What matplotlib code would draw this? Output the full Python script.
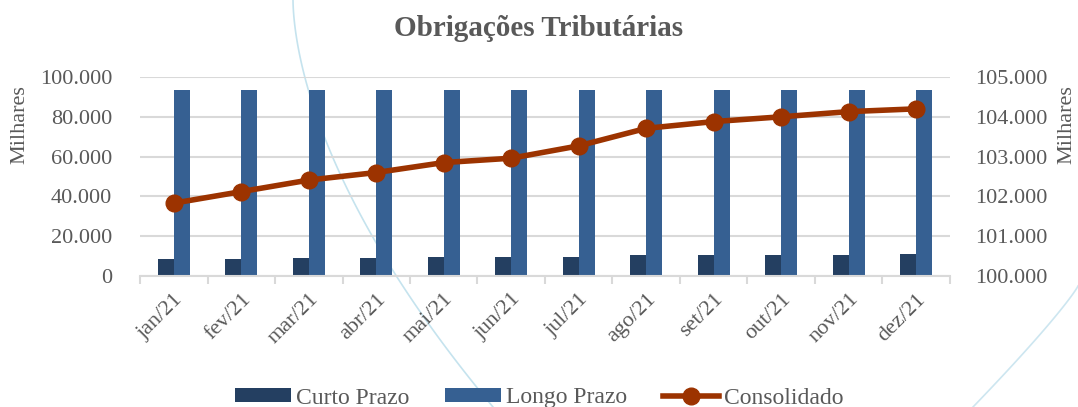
import matplotlib.pyplot as plt
import numpy as np
from matplotlib.ticker import FuncFormatter

meses = ["jan/21", "fev/21", "mar/21", "abr/21", "mai/21", "jun/21",
         "jul/21", "ago/21", "set/21", "out/21", "nov/21", "dez/21"]
curto_prazo = [8400, 8700, 9000, 9200, 9400, 9500, 9700, 10400, 10400, 10400, 10500, 10900]
longo_prazo = [93500] * 12
consolidado = [101830, 102120, 102410, 102600, 102850, 102960,
               103270, 103710, 103880, 104000, 104130, 104200]

plt.rcParams['font.family'] = ['Liberation Serif', 'DejaVu Serif']
cinza = "#595959"

def milhar(v, pos):
    return f"{int(round(v)):,}".replace(",", ".")

fig = plt.figure(figsize=(10.78, 4.07), dpi=100)
# decorative background curves
bg = fig.add_axes([0, 0, 1, 1], zorder=-1)
bg.set_xlim(0, 1078)
bg.set_ylim(407, 0)
bg.axis("off")
t = np.linspace(0, 1, 100)
bg.plot(293 + 200 * t ** 1.7, 407 * t, color="#c5e3ee", lw=1.2)
bg.plot(1078 - 105 * t, 286 + 121 * t ** 0.9, color="#cde6f0", lw=1.2)

ax = fig.add_axes([140 / 1078, 1 - 276 / 407, 810 / 1078, 199 / 407])
ax.patch.set_alpha(0)
x = np.arange(len(meses))
w = 0.24
ax.bar(x - w / 2, curto_prazo, w, color="#243f61", label="Curto Prazo", zorder=2)
ax.bar(x + w / 2, longo_prazo, w, color="#366092", label="Longo Prazo", zorder=2)
ax.set_xlim(-0.5, 11.5)
ax.set_ylim(0, 100000)
ax.set_yticks(np.arange(0, 100001, 20000))
ax.yaxis.set_major_formatter(FuncFormatter(milhar))
ax.grid(axis="y", color="#d9d9d9", lw=1.5, zorder=0)
for s in ["top", "right", "left"]:
    ax.spines[s].set_visible(False)
ax.spines["bottom"].set_color("#d9d9d9")
ax.spines["bottom"].set_linewidth(1.5)
ax.set_xticks(x)
ax.set_xticklabels(meses, rotation=45, ha="right", rotation_mode="anchor")
ax.set_xticks(np.arange(-0.5, 12, 1), minor=True)
ax.tick_params(axis="x", which="major", length=0, pad=10, labelsize=16, colors=cinza)
ax.tick_params(axis="x", which="minor", length=6, color="#d9d9d9", width=1.5)
ax.tick_params(axis="y", length=0, labelsize=16, colors=cinza, pad=20)
ax.set_ylabel("Milhares", fontsize=16, color=cinza)
ax.yaxis.set_label_coords(-0.137, 0.76)

ax2 = ax.twinx()
ax2.plot(x, consolidado, color="#9c3300", lw=4, marker="o", ms=12,
         label="Consolidado", zorder=3)
ax2.set_ylim(100000, 105000)
ax2.set_yticks(np.arange(100000, 105001, 1000))
ax2.yaxis.set_major_formatter(FuncFormatter(milhar))
for s in ax2.spines.values():
    s.set_visible(False)
ax2.tick_params(axis="y", length=0, labelsize=16, colors=cinza, pad=18)
ax2.set_ylabel("Milhares", fontsize=16, color=cinza)
ax2.yaxis.set_label_coords(1.133, 0.76)

fig.text(0.5, 1 - 28 / 407, "Obrigações Tributárias", ha="center", va="center",
         fontsize=21, fontweight="bold", color=cinza)

h1, l1 = ax.get_legend_handles_labels()
h2, l2 = ax2.get_legend_handles_labels()
fig.legend(h1 + h2, l1 + l2, loc="center", bbox_to_anchor=(0.5, 1 - 398 / 407),
           ncol=3, frameon=False, fontsize=17, labelcolor=cinza,
           handlelength=2.4, handleheight=0.55, handletextpad=0.2, columnspacing=1.5,
           borderpad=0)

fig.savefig("out.png", dpi=100)
